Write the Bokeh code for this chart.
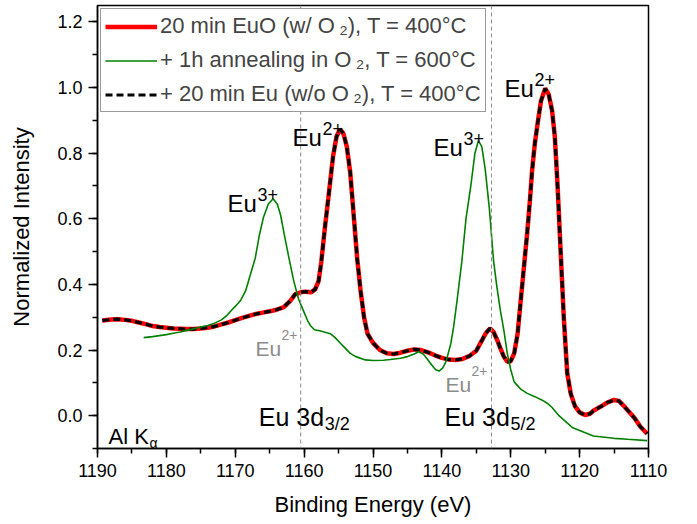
from bokeh.plotting import figure
from bokeh.models import (Range1d, SingleIntervalTicker, NumeralTickFormatter, Span,
                          Label, Legend, LegendItem)
from bokeh.embed import file_html
from bokeh.resources import INLINE

# ---------------- data ----------------
energy_euo = [1189.3, 1188, 1187, 1186, 1185, 1184, 1183, 1182, 1181, 1180, 1179, 1178, 1177,
              1176, 1175, 1174, 1173, 1172, 1171, 1170, 1169, 1168, 1167, 1166, 1165, 1164,
              1163, 1162, 1161.3, 1160.5, 1159.8, 1159, 1158.4, 1157.9, 1157.5, 1157, 1156.5,
              1156.2, 1155.8, 1155.3, 1154.8, 1154.3, 1153.8, 1153.3, 1152.8, 1152.3, 1151.8,
              1151.3, 1150.8, 1150, 1149, 1148, 1147, 1146, 1145, 1144, 1143, 1142, 1141,
              1140, 1139, 1138, 1137, 1136, 1135, 1134.3, 1133.6, 1133.0, 1132.5, 1132,
              1131.5, 1131, 1130.5, 1130, 1129.5, 1129, 1128.6, 1128.1, 1127.6, 1127.2,
              1126.9, 1126.5, 1126.1, 1125.6, 1125.0, 1124.5, 1124.0, 1123.6, 1123.2, 1122.8,
              1122.3, 1121.8, 1121.3, 1120.7, 1120, 1119.2, 1118.5, 1118, 1117, 1116, 1115,
              1114.3, 1113.5, 1113, 1112, 1111.2, 1110.2]
intensity_euo = [0.290, 0.293, 0.294, 0.292, 0.289, 0.284, 0.279, 0.273, 0.270, 0.268, 0.266,
                 0.265, 0.264, 0.264, 0.266, 0.268, 0.272, 0.278, 0.284, 0.291, 0.298, 0.304,
                 0.310, 0.314, 0.318, 0.323, 0.330, 0.350, 0.370, 0.376, 0.378, 0.376, 0.385,
                 0.410, 0.470, 0.570, 0.660, 0.716, 0.790, 0.850, 0.873, 0.860, 0.820, 0.740,
                 0.610, 0.480, 0.380, 0.300, 0.250, 0.222, 0.200, 0.190, 0.188, 0.192, 0.198,
                 0.202, 0.200, 0.193, 0.184, 0.176, 0.171, 0.170, 0.173, 0.182, 0.198, 0.225,
                 0.252, 0.266, 0.255, 0.232, 0.205, 0.180, 0.164, 0.166, 0.190, 0.250, 0.340,
                 0.450, 0.560, 0.660, 0.747, 0.830, 0.890, 0.960, 0.997, 0.980, 0.930, 0.850,
                 0.700, 0.520, 0.300, 0.130, 0.068, 0.030, 0.010, 0.002, 0.006, 0.015, 0.027,
                 0.040, 0.048, 0.045, 0.028, 0.016, -0.008, -0.033, -0.055]

# + 20 min Eu (w/o O2): coincides with the EuO curve
energy_eu = list(energy_euo)
intensity_eu = list(intensity_euo)

energy_anneal = [1183.3, 1182, 1181, 1180, 1179, 1178, 1177, 1176, 1175, 1174, 1173, 1172,
                 1171.2, 1170.5, 1170, 1169.2, 1168.5, 1167.8, 1167.1, 1166.5, 1165.9, 1165.2,
                 1164.5, 1163.9, 1163.4, 1162.9, 1162.2, 1161.5, 1160.8, 1160, 1159.5, 1159.1,
                 1158.5, 1157.6, 1156.2, 1155.5, 1154.7, 1154, 1153.3, 1152.5, 1151.1, 1150,
                 1148.5, 1147.5, 1146, 1145, 1144, 1143.4, 1142.7, 1142.1, 1141.5, 1140.9,
                 1140.4, 1139.9, 1139.5, 1139.2, 1138.7, 1138.3, 1137.8, 1137.1, 1136.5,
                 1135.8, 1135.2, 1134.7, 1134.2, 1133.7, 1133.1, 1132.5, 1132, 1131.5, 1131,
                 1130.5, 1130, 1129.5, 1128.5, 1127.6, 1126.5, 1125.5, 1124.7, 1124, 1123,
                 1121, 1118, 1115, 1113, 1110.2]
intensity_anneal = [0.238, 0.241, 0.244, 0.247, 0.251, 0.255, 0.260, 0.265, 0.270, 0.275,
                    0.282, 0.292, 0.306, 0.322, 0.333, 0.352, 0.380, 0.430, 0.480, 0.550,
                    0.605, 0.645, 0.661, 0.645, 0.610, 0.554, 0.480, 0.410, 0.355, 0.315,
                    0.290, 0.275, 0.262, 0.258, 0.250, 0.238, 0.220, 0.205, 0.190, 0.180,
                    0.170, 0.168, 0.169, 0.171, 0.175, 0.180, 0.188, 0.195, 0.188, 0.172,
                    0.155, 0.140, 0.136, 0.145, 0.160, 0.180, 0.220, 0.270, 0.350, 0.470,
                    0.600, 0.700, 0.800, 0.838, 0.820, 0.750, 0.630, 0.473, 0.390, 0.320,
                    0.260, 0.190, 0.140, 0.103, 0.080, 0.068, 0.058, 0.048, 0.038, 0.025,
                    0.000, -0.037, -0.062, -0.069, -0.072, -0.076]

series_labels = ["20 min EuO (w/ O\u2009\u2082), T = 400\u00b0C",
                 "+ 1h annealing in O\u2009\u2082, T = 600\u00b0C",
                 "+ 20 min Eu (w/o O\u2009\u2082), T = 400\u00b0C"]

marker_positions = [1160.5, 1132.8]   # Eu 3d3/2 and Eu 3d5/2 (eV)

FONT = "Liberation Sans"

p = figure(width=697, height=524, output_backend="svg", toolbar_location=None,
           x_range=Range1d(1190, 1110), y_range=Range1d(-0.1, 1.25),
           min_border_left=97, min_border_right=49, min_border_top=5, min_border_bottom=76,
           background_fill_color="white", border_fill_color="white")
p.xgrid.visible = False
p.ygrid.visible = False
p.outline_line_color = "black"
p.outline_line_width = 1.5
p.outline_line_alpha = 1.0

for loc in marker_positions:
    p.add_layout(Span(location=loc, dimension="height", line_color="#8c8c8c",
                      line_dash="4 3", line_width=1))

r_red = p.line(energy_euo, intensity_euo, line_color="#ff0000", line_width=4.5)
r_blk = p.line(energy_eu, intensity_eu, line_color="black", line_width=3.2, line_dash="7 4")
r_grn = p.line(energy_anneal, intensity_anneal, line_color="#008000", line_width=1.6)

# axes
p.xaxis.ticker = SingleIntervalTicker(interval=10, num_minor_ticks=2)
p.yaxis.ticker = SingleIntervalTicker(interval=0.2, num_minor_ticks=2)
p.yaxis.formatter = NumeralTickFormatter(format="0.0")
p.xaxis.axis_label = "Binding Energy (eV)"
p.yaxis.axis_label = "Normalized Intensity"
for ax in (p.xaxis[0], p.yaxis[0]):
    ax.axis_line_width = 1.5
    ax.major_tick_line_width = 1.5
    ax.minor_tick_line_width = 1.5
    ax.major_tick_out = 9
    ax.major_tick_in = 0
    ax.minor_tick_out = 5
    ax.minor_tick_in = 0
    ax.major_label_text_font = FONT
    ax.major_label_text_font_size = "18px"
    ax.major_label_text_color = "black"
    ax.major_label_standoff = 6
    ax.axis_label_text_font = FONT
    ax.axis_label_text_font_size = "22px"
    ax.axis_label_text_font_style = "normal"
    ax.axis_label_text_color = "black"
p.xaxis.axis_label_standoff = 12
p.yaxis.axis_label_standoff = 20

legend = Legend(items=[LegendItem(label=series_labels[0], renderers=[r_red]),
                       LegendItem(label=series_labels[1], renderers=[r_grn]),
                       LegendItem(label=series_labels[2], renderers=[r_blk])],
                location="top_left", margin=3, padding=4, spacing=8,
                glyph_width=52, glyph_height=25, label_height=25, label_standoff=3,
                label_text_font=FONT, label_text_font_size="22px",
                border_line_color="#333333", border_line_width=1,
                background_fill_color="white", background_fill_alpha=1.0)
p.add_layout(legend)


def sup_label(x, y, main, sup, size, sup_size, dx, dy, color):
    p.add_layout(Label(x=x, y=y, text=main, text_font=FONT, text_font_size=size,
                       text_color=color, text_baseline="alphabetic", text_align="left"))
    p.add_layout(Label(x=x, y=y, x_offset=dx, y_offset=dy, text=sup, text_font=FONT,
                       text_font_size=sup_size, text_color=color,
                       text_baseline="alphabetic", text_align="left"))


sup_label(1171.13, 0.647, "Eu", "3+", "24px", "18px", 30, 9, "black")
sup_label(1161.69, 0.848, "Eu", "2+", "24px", "18px", 30, 9, "black")
sup_label(1141.22, 0.818, "Eu", "3+", "24px", "18px", 30, 9, "black")
sup_label(1130.91, 0.998, "Eu", "2+", "24px", "18px", 30, 9, "black")
sup_label(1167.06, 0.205, "Eu", "2+", "21px", "14px", 26, 13, "#8c8c8c")
sup_label(1139.47, 0.096, "Eu", "2+", "21px", "14px", 26, 13, "#8c8c8c")
sup_label(1166.58, -0.003, "Eu 3d", "3/2", "25px", "18px", 66, -7, "black")
sup_label(1139.62, -0.004, "Eu 3d", "5/2", "25px", "18px", 66, -7, "black")
sup_label(1188.4, -0.064, "Al K", "\u03b1", "22px", "14px", 41, -6, "black")

open("out.html", "w").write(file_html(p, INLINE))
